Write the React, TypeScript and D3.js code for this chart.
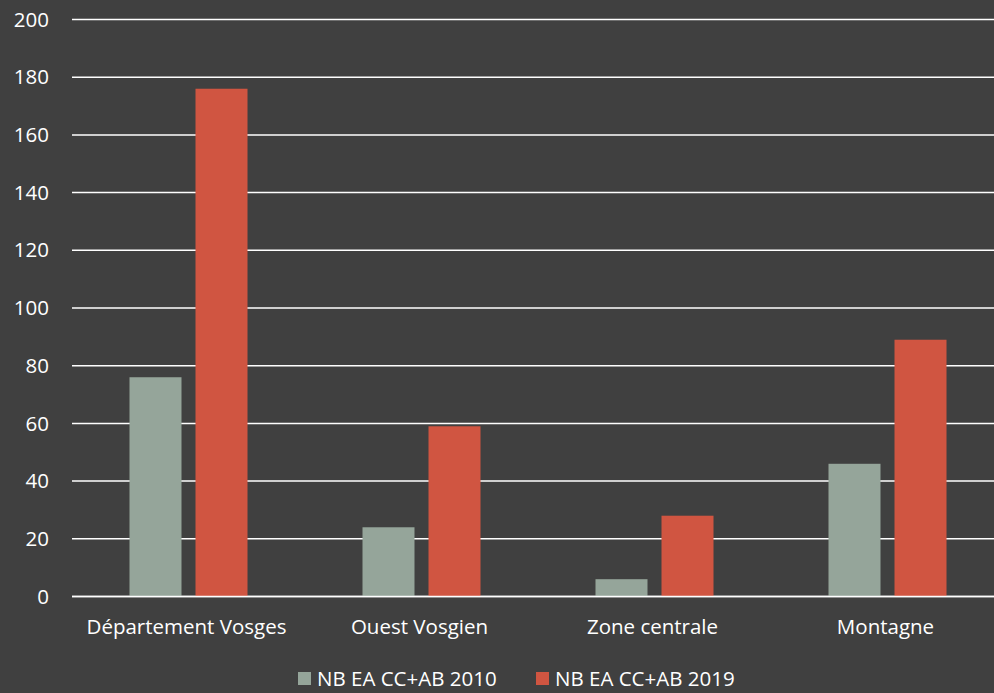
import React from "react";
import * as d3 from "d3";

const categories = ["Département Vosges", "Ouest Vosgien", "Zone centrale", "Montagne"];
const seriesNames = ["NB EA CC+AB 2010", "NB EA CC+AB 2019"];
const values2010 = [76, 24, 6, 46];
const values2019 = [176, 59, 28, 89];
const yTicks = [0, 20, 40, 60, 80, 100, 120, 140, 160, 180, 200];
const colors = ["#95a59a", "#d05541"];

const W = 994;
const H = 693;
const FONT = "'Open Sans', sans-serif";
const FS = 20.5;

export default function App() {
  const y = d3.scaleLinear().domain([0, 200]).range([596.5, 19.5]);
  const x0 = d3.scaleBand<string>().domain(categories).range([72, 1004]).paddingInner(0).paddingOuter(0);
  const x1 = d3
    .scaleBand<string>()
    .domain(seriesNames)
    .range([0, x0.bandwidth()])
    .paddingInner(0.212)
    .paddingOuter(0.871);
  const series = [values2010, values2019];

  return (
    <svg
      width={W}
      height={H}
      style={{ display: "block", position: "fixed", left: 0, top: 0, background: "#404040" }}
      fontFamily={FONT}
    >
      <rect x={0} y={0} width={W} height={H} fill="#404040" />
      {yTicks.map((t) => (
        <g key={t}>
          <line x1={72} x2={W} y1={y(t)} y2={y(t)} stroke="#ffffff" strokeWidth={1.5} />
          <text x={49} y={y(t)} dy="0.35em" textAnchor="end" fill="#ffffff" fontSize={FS}>
            {t}
          </text>
        </g>
      ))}
      {categories.map((c, ci) => (
        <g key={c}>
          {seriesNames.map((s, si) => (
            <rect
              key={s}
              x={(x0(c) as number) + (x1(s) as number)}
              y={y(series[si][ci])}
              width={x1.bandwidth()}
              height={y(0) - y(series[si][ci])}
              fill={colors[si]}
            />
          ))}
          <text
            x={(x0(c) as number) + x0.bandwidth() / 2 - 2}
            y={627}
            dy="0.35em"
            textAnchor="middle"
            fill="#ffffff"
            fontSize={FS}
          >
            {c}
          </text>
        </g>
      ))}
      <line x1={72} x2={W} y1={y(0)} y2={y(0)} stroke="#ffffff" strokeWidth={1.5} />
      {seriesNames.map((s, i) => {
        const lx = i === 0 ? 298 : 536;
        return (
          <g key={s}>
            <rect x={lx} y={672} width={13} height={13} fill={colors[i]} />
            <text x={lx + 19} y={679} dy="0.35em" fill="#ffffff" fontSize={FS}>
              {s}
            </text>
          </g>
        );
      })}
    </svg>
  );
}
